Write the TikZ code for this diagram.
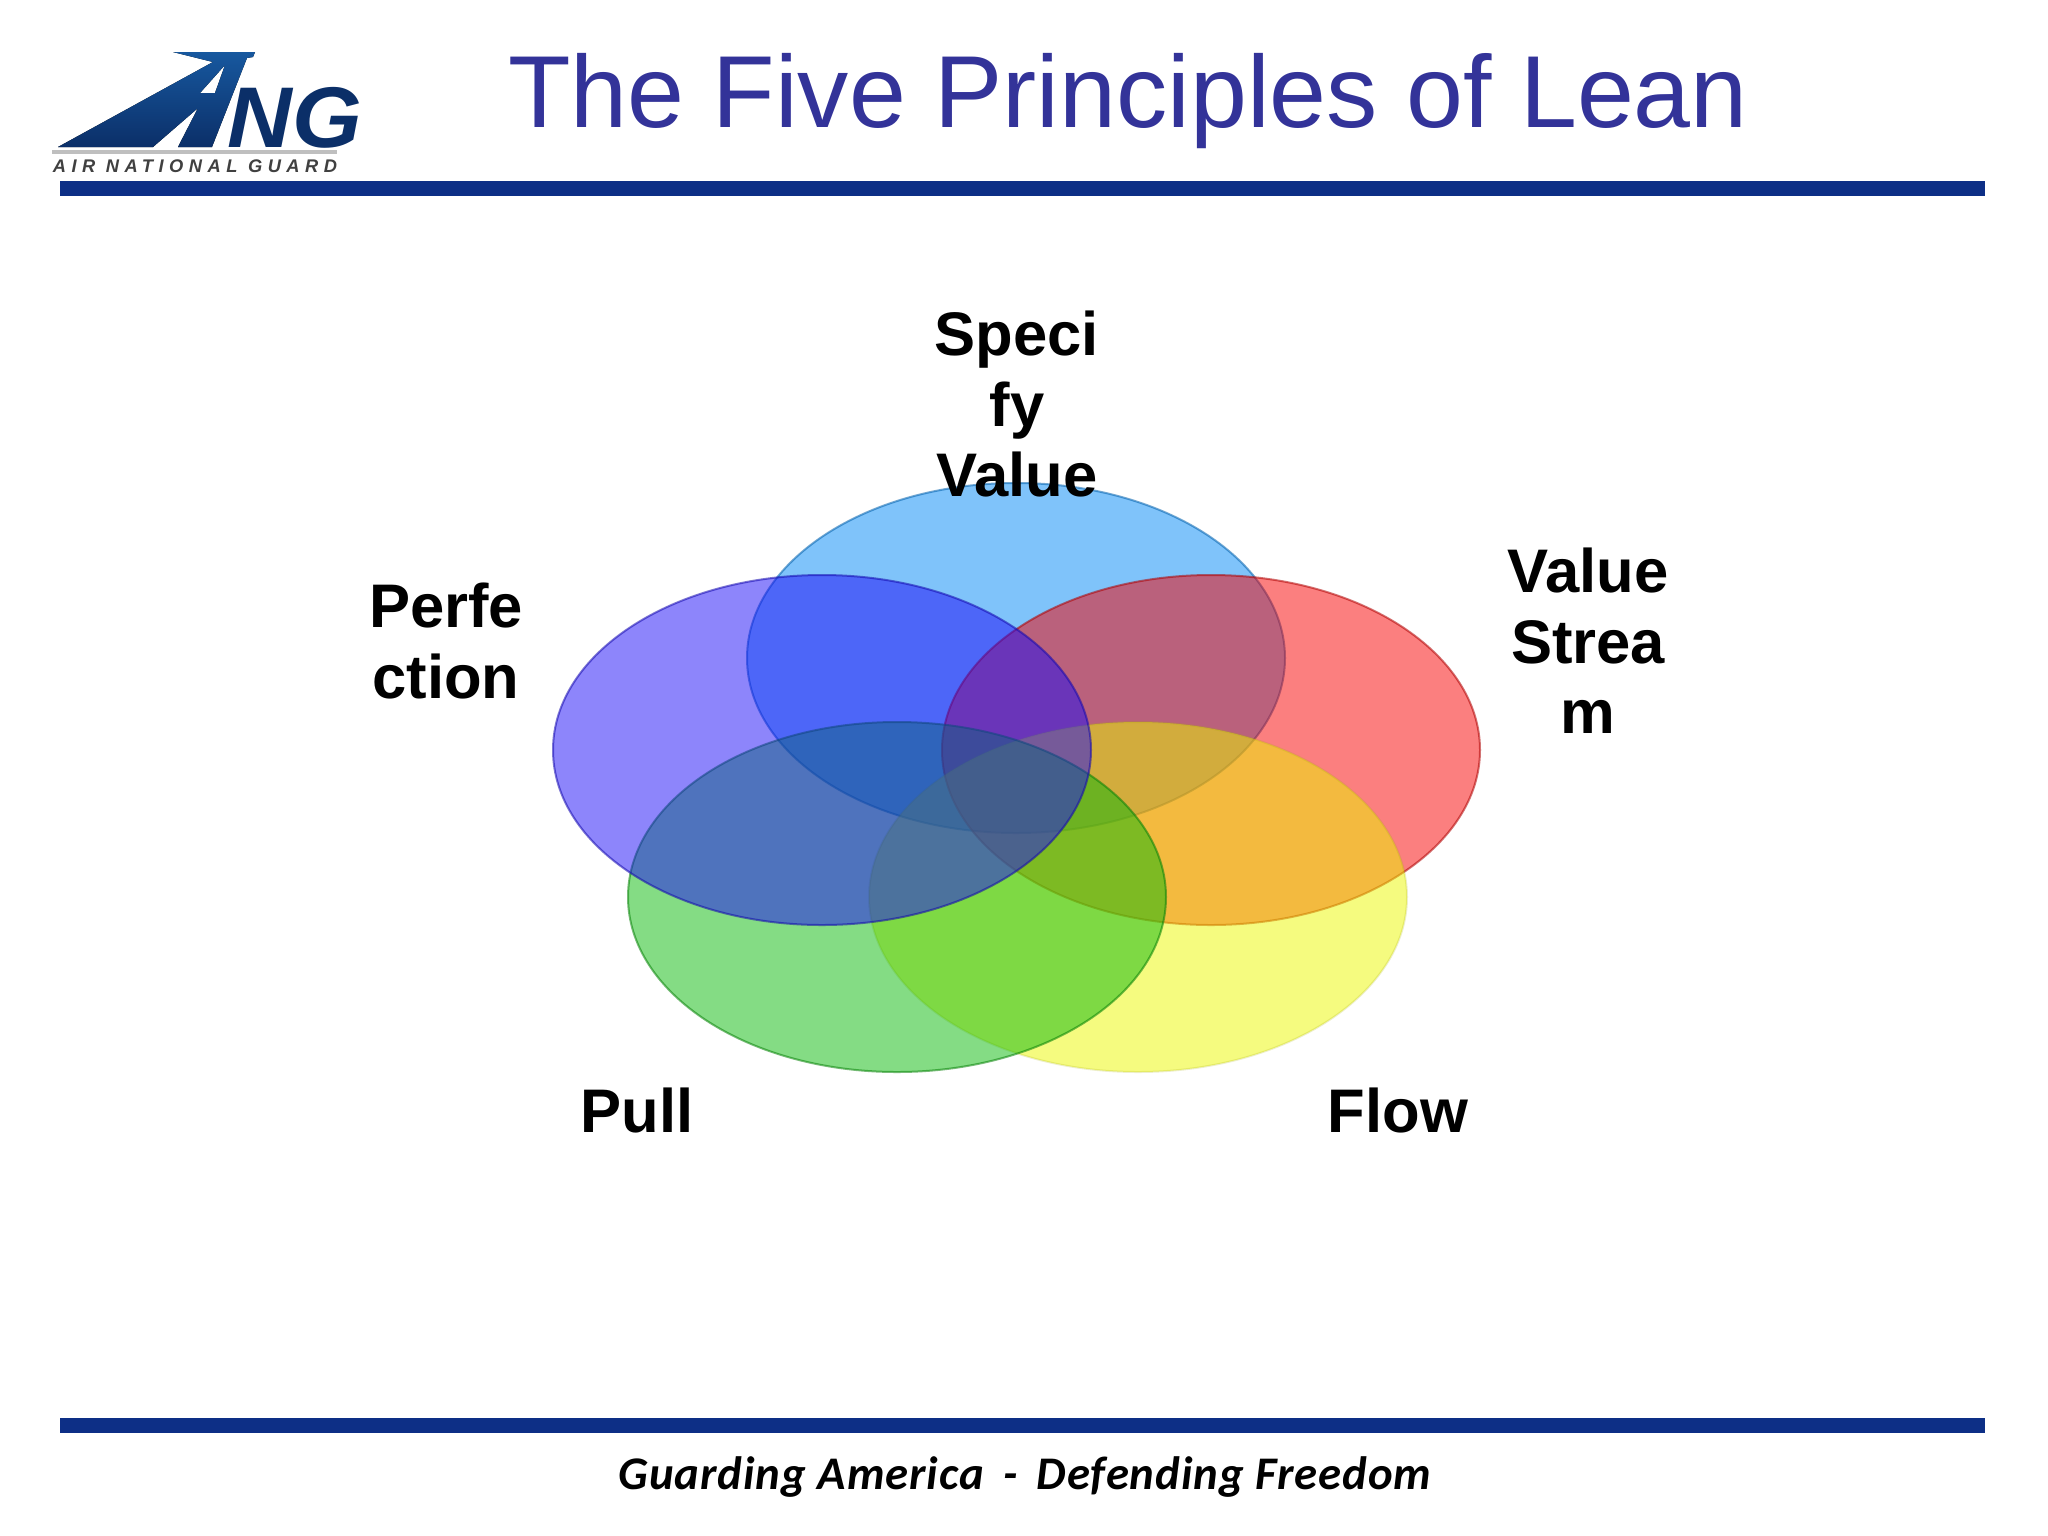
\documentclass[tikz,border=0pt]{standalone}
\usepackage{fontspec}
\setmainfont{Liberation Sans}
\newfontfamily\footfont{Carlito}
\usetikzlibrary{calc}

\definecolor{barblue}{HTML}{0D2F86}
\definecolor{titleblue}{HTML}{333399}
\definecolor{wingtop}{HTML}{17589F}
\definecolor{wingbottom}{HTML}{0B2F68}
\definecolor{petalsky}{RGB}{0,136,245}
\definecolor{petalviolet}{RGB}{27,11,247}
\definecolor{petalred}{RGB}{247,0,0}
\definecolor{petalgreen}{RGB}{9,185,9}
\definecolor{petalyellow}{RGB}{235,247,0}

\tikzset{
    petal/.style={draw=#1!70!black, fill=#1, fill opacity=0.5, draw opacity=0.55, line width=0.2mm},
    bar/.style={fill=barblue, draw=none},
    label/.style={font=\fontsize{17.5}{20}\selectfont\bfseries, align=center, inner sep=0pt}
}

\begin{document}
\begin{tikzpicture}[x=0.01cm,y=-0.01cm]
    \useasboundingbox (0,0) rectangle (2048,1536);

    % Define the centres of the petals
    \coordinate (S) at (1016,658);
    \coordinate (V) at (1211,750);
    \coordinate (F) at (1138,897);
    \coordinate (U) at (897,897);
    \coordinate (P) at (822,750);

    % Draw the petals, the last one lies on top
    \draw[petal=petalsky] (S) ellipse [x radius=269, y radius=175];
    \draw[petal=petalred] (V) ellipse [x radius=269, y radius=175];
    \draw[petal=petalyellow, draw opacity=0.2] (F) ellipse [x radius=269, y radius=175];
    \draw[petal=petalgreen] (U) ellipse [x radius=269, y radius=175];
    \draw[petal=petalviolet] (P) ellipse [x radius=269, y radius=175];

    % Place the labels of the petals
    \node[label] (specify) at (1017,404) {Speci\\fy\\Value};
    \node[label] (perfection) at (446,641) {Perfe\\ction};
    \node[label] (stream) at (1588,641) {Value\\Strea\\m};
    \node[label, anchor=base] (pull) at (637,1132) {Pull};
    \node[label, anchor=base] (flow) at (1398,1132) {Flow};

    % Draw the bars and the title
    \fill[bar] (60,181) rectangle (1985,196);
    \fill[bar] (60,1418) rectangle (1985,1433);
    \node[anchor=base, text=titleblue, font=\fontsize{29.1}{32}\selectfont, inner sep=0pt] (title) at (1128,127) {The Five Principles of Lean};
    \node[anchor=base, font=\footfont\fontsize{13.3}{15}\selectfont\bfseries\itshape\addfontfeature{LetterSpace=2}, inner sep=0pt] (footer) at (1025,1489) {Guarding America \,-\, Defending Freedom};

    % Draw the logo
    \fill[top color=wingtop, bottom color=wingbottom, even odd rule]
        (58,147) -- (213,62) -- (173,52) -- (255,52) -- (253,57) -- (247,58) -- (212,147) -- (178,147)
        -- (198,108) -- (153,147) -- cycle
        (200,93) -- (225,65) -- (215,93) -- cycle;
    \node[anchor=base, text=wingbottom, font=\fontsize{24.5}{26}\selectfont\bfseries\itshape, inner sep=0pt, xscale=1.04] (ng) at (295,147) {NG};
    \draw[black!25, line width=0.4mm] (52,152) -- (337,152);
    \node[anchor=base, text=black!75, font=\fontsize{5.2}{6}\selectfont\bfseries\itshape\addfontfeature{LetterSpace=30}, inner sep=0pt] (guard) at (195,172) {AIR NATIONAL GUARD};

\end{tikzpicture}
\end{document}
